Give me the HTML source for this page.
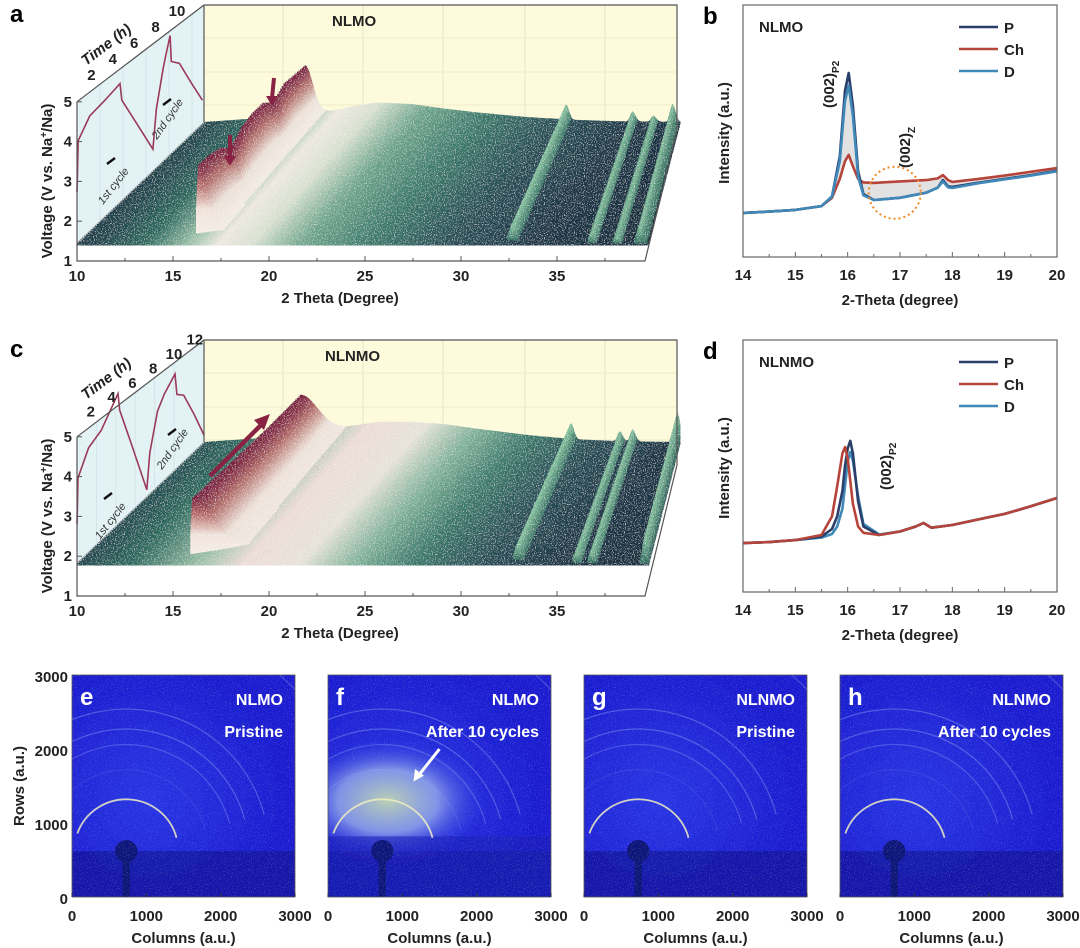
<!DOCTYPE html>
<html><head><meta charset="utf-8"><style>
html,body{margin:0;padding:0;background:#fff;}
svg{display:block;font-family:"Liberation Sans",Arial,sans-serif;}
.t{font-weight:bold;font-size:15px;fill:#222;}
</style></head><body>
<svg id="fig" width="1080" height="948" viewBox="0 0 1080 948" xmlns="http://www.w3.org/2000/svg">
<defs>
<linearGradient id="surfA" gradientUnits="userSpaceOnUse" x1="148" y1="134" x2="459" y2="415">
<stop offset="0" stop-color="#1d3644"/><stop offset="0.08" stop-color="#24454e"/><stop offset="0.17" stop-color="#2f6b60"/>
<stop offset="0.24" stop-color="#8fb8a0"/><stop offset="0.3" stop-color="#ece8df"/><stop offset="0.36" stop-color="#d8e0d0"/>
<stop offset="0.45" stop-color="#6fa58c"/><stop offset="0.57" stop-color="#3d7a6c"/><stop offset="0.71" stop-color="#2a5058"/>
<stop offset="0.86" stop-color="#203848"/><stop offset="1" stop-color="#1c3040"/></linearGradient>
<linearGradient id="surfC" gradientUnits="userSpaceOnUse" x1="160" y1="469" x2="471" y2="750">
<stop offset="0" stop-color="#24454e"/><stop offset="0.1" stop-color="#2f6b60"/>
<stop offset="0.22" stop-color="#9cc0a8"/><stop offset="0.3" stop-color="#ecdcd6"/><stop offset="0.4" stop-color="#e6e2d8"/>
<stop offset="0.5" stop-color="#7fb098"/><stop offset="0.6" stop-color="#3d7a6c"/><stop offset="0.72" stop-color="#2a5058"/>
<stop offset="0.86" stop-color="#203848"/><stop offset="1" stop-color="#1c3040"/></linearGradient>
<linearGradient id="ridge" x1="0" y1="0" x2="0" y2="1">
<stop offset="0" stop-color="#7a1a3c"/><stop offset="0.3" stop-color="#b8706c"/><stop offset="0.65" stop-color="#efe2da"/><stop offset="1" stop-color="#f4eee6"/></linearGradient>
<linearGradient id="gridge" x1="0" y1="0" x2="0" y2="1">
<stop offset="0" stop-color="#8ccaa4"/><stop offset="1" stop-color="#2f6a5e"/></linearGradient>
<filter id="spk" filterUnits="userSpaceOnUse" x="0" y="0" width="1080" height="948">
<feTurbulence type="fractalNoise" baseFrequency="0.9" numOctaves="1" seed="4" result="n"/>
<feColorMatrix in="n" type="matrix" values="0 0 0 0 1  0 0 0 0 1  0 0 0 0 1  10 0 0 0 -5.6" result="d"/>
<feComposite in="d" in2="SourceAlpha" operator="in" result="ds"/>
<feComponentTransfer in="ds" result="d2"><feFuncA type="linear" slope="0.4"/></feComponentTransfer>
<feMerge><feMergeNode in="SourceGraphic"/><feMergeNode in="d2"/></feMerge></filter>
<filter id="spk2" filterUnits="userSpaceOnUse" x="0" y="0" width="1080" height="948">
<feTurbulence type="fractalNoise" baseFrequency="0.95" numOctaves="1" seed="9" result="n"/>
<feColorMatrix in="n" type="matrix" values="0 0 0 0 0.5  0 0 0 0 0.55  0 0 0 0 1  10 0 0 0 -6.0" result="d"/>
<feComposite in="d" in2="SourceAlpha" operator="in" result="ds"/>
<feComponentTransfer in="ds" result="d2"><feFuncA type="linear" slope="0.1"/></feComponentTransfer>
<feMerge><feMergeNode in="SourceGraphic"/><feMergeNode in="d2"/></feMerge></filter>
<radialGradient id="cloud" cx="0.5" cy="0.5" r="0.5">
<stop offset="0" stop-color="#c8e0b0" stop-opacity="0.9"/><stop offset="0.5" stop-color="#9eb4ea" stop-opacity="0.75"/><stop offset="1" stop-color="#2a34e0" stop-opacity="0"/></radialGradient>
<radialGradient id="glow" cx="0.35" cy="0.55" r="0.6">
<stop offset="0" stop-color="#2a36e4"/><stop offset="1" stop-color="#1c1ed0"/></radialGradient>
</defs>

<g id="pa">
<text x="10" y="22" font-size="24" font-weight="bold">a</text>
</g>
<g id="pc">
<text x="10" y="357" font-size="24" font-weight="bold">c</text>
</g>
<g id="pb">
<text x="703" y="24" font-size="24" font-weight="bold">b</text>
</g>
<g id="pd">
<text x="703" y="359" font-size="24" font-weight="bold">d</text>
</g>
<g id="pimg"></g>
</svg>
<script>
const NS='http://www.w3.org/2000/svg';
function mk(tag,parent,attrs){const e=document.createElementNS(NS,tag);for(const k in attrs)e.setAttribute(k,attrs[k]);parent.appendChild(e);return e;}
function txt(parent,x,y,s,attrs){const e=mk('text',parent,Object.assign({x:x,y:y},attrs||{}));e.textContent=s;return e;}

// ===== Data: 3D waterfall panels =====
const bgTheta=[10,12,14,16,18,20,21,23,25,27,30,33,36,40];
const aBg=[0,3,6,10,15,24,26,24,18,13,7,3,1,0];
const cBg=[0,3,6,10,16,24,27,27,24,18,10,4,1,0];
const aPeakPos=[16.3,32.65,36.8,38.1,39.3];
const aPeakH=[68,15,10,6,18];
const aRidge=[1,0.97,0.9,0.72,0.85,0.88,0.86,0.7,0.8,0.76,0.72];
const cPeakPos=[16.0,32.95,36.0,36.8,39.6];
const cPeakH=[55,16,10,12,30];
const cRidge=[1,0.97,0.94,0.9,0.87,0.84,0.81,0.78,0.76,0.74,0.72];
const aT=[0,0.1,1.1,2.4,3.74,3.9,5.2,6.6,6.9,7.5,7.8,8.1,8.2,8.9,9.9,10.9];
const aV=[2.73,4.0,4.4,4.5,4.63,4.18,3.3,2.35,3.3,4.2,4.55,4.87,4.2,4.0,3.3,2.63];
const cT=[0,0.1,1.2,2.5,4.23,4.4,5.8,7.2,7.5,8.3,9.0,10.1,10.3,11.0,12.1,13.1];
const cV=[2.8,3.95,4.5,4.7,5.3,4.85,3.6,2.33,3.2,4.1,4.4,4.7,4.15,4.0,3.3,2.6];
const aTimeTicks=[2,4,6,8,10];
const cTimeTicks=[2,4,6,8,10,12];
const thetaTicks=[10,15,20,25,30,35];
const voltTicks=[1,2,3,4,5];

function interp(xs,ys,x){if(x<=xs[0])return ys[0];for(let i=1;i<xs.length;i++){if(x<=xs[i]){const f=(x-xs[i-1])/(xs[i]-xs[i-1]);return ys[i-1]+f*(ys[i]-ys[i-1]);}}return ys[ys.length-1];}

function panel3D(g,o){
  const oy=o.oy;
  const ax=77, axisY=261+oy;
  const X=th=>ax+(th-10)*19.2;
  const dX=xf=>127-(xf-ax)*95/568;
  const dY=xf=>121;
  const VY=v=>axisY-(v-1)*39.8;
  const wall=mk('polygon',g,{points:`${ax},${VY(5)} 204,${5+oy} 204,${o.base-121} ${ax},${o.base}`,fill:'#e3f3f5',stroke:'#999','stroke-width':0.6});
  
  
  const back=mk('rect',g,{x:204,y:5+oy,width:473,height:125,fill:'#fefbdc'});
  
  
  [283,363,443,525,605].forEach(x=>{const l=mk('line',g,{x1:x,y1:5+oy,x2:x,y2:130+oy,stroke:'#e6e6c6','stroke-width':1});});
  [38,72,105].forEach(y=>{const l=mk('line',g,{x1:204,y1:y+oy,x2:677,y2:y+oy,stroke:'#ecebc9','stroke-width':1});});
  for(let t=2;t<=10;t+=2){const xx=ax+t*o.tx, yy=VY(5)-t*o.ty;const l=mk('line',g,{x1:xx,y1:yy,x2:xx,y2:o.base-(xx-ax)*121/127,stroke:'#cfe3e6','stroke-width':0.8});}
  let d='';o.T.forEach((t,i)=>{d+=(i?'L':'M')+(ax+t*o.tx).toFixed(1)+','+(VY(o.V[i])-t*o.ty).toFixed(1);});
  const vc=mk('path',g,{d:d,fill:'none',stroke:'#9a3a5a','stroke-width':1.6});
  
  
  const c1=txt(g,0,0,'1st cycle',{'font-size':11,'font-style':'italic',fill:'#333',transform:`translate(${o.c1[0]},${o.c1[1]}) rotate(-52)`});
  
  const c2=txt(g,0,0,'2nd cycle',{'font-size':11,'font-style':'italic',fill:'#333',transform:`translate(${o.c2[0]},${o.c2[1]}) rotate(-55)`});
  
  [[o.c1[0]+8,o.c1[1]-44],[o.c2[0]+10,o.c2[1]-38]].forEach(p=>{const a=mk('path',g,{d:`M${p[0]-4},${p[1]+3} L${p[0]+4},${p[1]-3}`,stroke:'#111','stroke-width':2.4});});
  const surf=mk('g',g,{filter:'url(#spk)'});
  
  
  const N=70;
  for(let k=N;k>=0;k--){
    const s=k/N;
    const rm=interp([0,.1,.2,.3,.4,.5,.6,.7,.8,.9,1],o.ridge,s);
    const pts=[];
    const peaksPts=o.peakPos.map(()=>[]);
    for(let th=10;th<=39.85;th+=0.1){
      const xf=X(th);
      let h=interp(bgTheta,o.bg,th)*(1-0.25*s);
      let hp=0;const hpj=[];
      o.peakPos.forEach((c,j)=>{const sig=(j===0)?(th<c?0.07:o.rs):(th<c?0.13:0.18);let A=o.peakH[j]*(j===0?rm:1);const v=A*Math.exp(-0.5*((th-c)/sig)**2);hp+=v;hpj.push(v);});
      const x=xf+s*dX(xf), yb=o.base-s*dY(xf);
      pts.push([x,yb-h-hp]);
      o.peakPos.forEach((c,j)=>{if(hpj[j]>1.2){peaksPts[j].push([x,yb-h-hp,yb-h]);}});
    }
    const last=pts[pts.length-1],first=pts[0];
    let P=pts.map(p=>p[0].toFixed(1)+','+p[1].toFixed(1)).join(' ');
    P+=` ${last[0].toFixed(1)},${(o.base-s*121+2.5).toFixed(1)} ${first[0].toFixed(1)},${(o.base-s*121+2.5).toFixed(1)}`;
    const strip=mk('polygon',surf,{points:P,fill:o.grad});
    
    
    peaksPts.forEach((pp,j)=>{
      if(pp.length<2)return;
      let Q=pp.map(p=>p[0].toFixed(1)+','+p[1].toFixed(1)).join(' ');
      for(let i=pp.length-1;i>=0;i--)Q+=' '+pp[i][0].toFixed(1)+','+(pp[i][2]+1).toFixed(1);
      const pk=mk('polygon',surf,{points:Q,fill:j===0?'url(#ridge)':'url(#gridge)'});
      
      
    });
  }
  const box=mk('path',g,{d:`M${ax},${VY(5)} L${ax},${axisY} L645,${axisY} L677,${130+oy} L677,${5+oy} L204,${5+oy} L${ax},${VY(5)} M204,${5+oy} L204,${o.base-121}`,fill:'none',stroke:'#555','stroke-width':1.2});
  
  
  thetaTicks.forEach(t=>{const x=X(t);const tk=mk('line',g,{x1:x,y1:axisY,x2:x,y2:axisY-5,stroke:'#555'});
    const lb=txt(g,x,axisY+20,String(t),{'text-anchor':'middle',class:'t'});});
  for(let t=12.5;t<40;t+=5){const x=X(t);const tk=mk('line',g,{x1:x,y1:axisY,x2:x,y2:axisY-3,stroke:'#555'});}
  voltTicks.forEach(v=>{const y=VY(v);const tk=mk('line',g,{x1:ax,y1:y,x2:ax+5,y2:y,stroke:'#555'});
    const lb=txt(g,ax-5,y+5,String(v),{'text-anchor':'end',class:'t'});});
  o.timeTicks.forEach(t=>{const x=70+t*o.lx,y=o.ly0+oy-t*o.ly;const lb=txt(g,x,y,String(t),{'text-anchor':'middle',class:'t'});});
  const tt=txt(g,0,0,'Time (h)',{class:'t','font-style':'italic',transform:`translate(${o.timeLbl[0]},${o.timeLbl[1]}) rotate(-37)`});
  
  const yt=txt(g,0,0,'Voltage (V vs. Na',{class:'t',transform:`translate(52,${axisY-80}) rotate(-90)`,'text-anchor':'middle'});
  const sup=mk('tspan',yt,{'baseline-shift':'super','font-size':10});sup.textContent='+';
  const rest=mk('tspan',yt,{});rest.textContent='/Na)';
  
  const xt=txt(g,340,axisY+42,'2 Theta (Degree)',{class:'t','text-anchor':'middle'});
  
  const nm=txt(g,o.nameX,26+oy,o.name,{class:'t'});
  
}
panel3D(document.getElementById('pa'),{oy:0,base:243,grad:'url(#surfA)',bg:aBg,peakPos:aPeakPos,peakH:aPeakH,ridge:aRidge,rs:0.5,
  T:aT,V:aV,tx:11.5,ty:8.8,lx:10.7,ly0:96,ly:8,timeTicks:aTimeTicks,timeLbl:[86,66],c1:[103,205],c2:[157,140],name:'NLMO',nameX:332});
panel3D(document.getElementById('pc'),{oy:335,base:563,grad:'url(#surfC)',bg:cBg,peakPos:cPeakPos,peakH:cPeakH,ridge:cRidge,rs:1.1,
  T:cT,V:cV,tx:9.7,ty:7.4,lx:10.4,ly0:96,ly:7.2,timeTicks:cTimeTicks,timeLbl:[86,400],c1:[100,540],c2:[162,470],name:'NLNMO',nameX:325});
(function(){
  const ga=document.getElementById('pa');
  [[230,135,230,166],[274,78,272,106]].forEach(p=>{const a=mk('path',ga,{d:`M${p[0]},${p[1]} L${p[2]},${p[3]-8}`,stroke:'#8a2244','stroke-width':4});
    const h=mk('polygon',ga,{points:`${p[2]-6},${p[3]-10} ${p[2]+6},${p[3]-10} ${p[2]},${p[3]}`,fill:'#8a2244'});});
  const gc=document.getElementById('pc');
  const a=mk('path',gc,{d:'M210,476 L262,424',stroke:'#8a2244','stroke-width':4.5});
  const h=mk('polygon',gc,{points:'254,420 270,414 264,430',fill:'#8a2244'});
})();

// ===== Data: 2D XRD panels =====
const bX=[14,14.5,15,15.5,15.7,15.85,15.95,16.02,16.1,16.2,16.3,16.5,17,17.5,17.72,17.82,17.92,18,18.5,19,19.5,20];
const bP=[17.5,18,18.7,20.2,24,40,66,73,60,34,25,22.6,23.5,25.5,27.5,30.5,28,27.8,29.5,31,32.5,34.3];
const bD=[17.5,18,18.7,20.2,24,38,62,68,56,32,24.5,22.6,23.5,25.5,27.5,30,27.6,27.4,29.3,30.8,32.3,34];
const bCh=[17.5,18,18.7,20.2,23.5,31,38,40.5,36,31,29.6,29.4,30,30.5,31.2,32.5,30.5,29.8,31,32.3,33.8,35.3];
const dX=[14,14.5,15,15.5,15.7,15.8,15.9,15.95,16.0,16.05,16.1,16.2,16.3,16.6,17,17.3,17.45,17.6,18,18.5,19,19.5,20];
const dP=[19.4,19.8,20.6,22,25,30,40,50,57,60,55,36,26,22.6,24,26,27.4,25.5,26.6,28.8,31,34,37.3];
const dCh=[19.4,19.8,20.6,22.6,30,42,55,57.5,53,44,35,26,23.5,22.6,24,26,27.4,25.5,26.6,28.8,31,34,37.3];
const dD=[19.4,19.8,20.6,21.6,23,26,33,42,52,55.5,52,38,27,22.8,24,26,27.4,25.5,26.6,28.8,31,34,37.3];
const xrdTicks=[14,15,16,17,18,19,20];

function panel2D(g,o){
  const L=743,R=1057,T=5+o.oy,B=257+o.oy;
  const X=v=>L+(v-14)/6*(R-L);
  const Y=v=>B-v*2.52;
  if(o.fill){let Q=o.x.map((x,i)=>X(x).toFixed(1)+','+Y(o.P[i]).toFixed(1)).join(' ');for(let i=o.x.length-1;i>=0;i--)Q+=' '+X(o.x[i]).toFixed(1)+','+Y(o.Ch[i]).toFixed(1);
    const f=mk('polygon',g,{points:Q,fill:'#cfcfcf','fill-opacity':0.6});}
  const series=[[o.P,'#2b3f6b','series-p'],[o.Ch,'#b5443a','series-ch'],[o.D,'#3f88b8','series-d']];
  o.order.forEach(i=>{const s=series[i];const d=o.x.map((x,j)=>(j?'L':'M')+X(x).toFixed(1)+','+Y(s[0][j]).toFixed(1)).join('');
    const p=mk('path',g,{d:d,fill:'none',stroke:s[1],'stroke-width':2.6,'stroke-linejoin':'round'});
    });
  const box=mk('rect',g,{x:L,y:T,width:R-L,height:B-T,fill:'none',stroke:'#666','stroke-width':1.2});
  
  xrdTicks.forEach(t=>{const x=X(t);const tk=mk('line',g,{x1:x,y1:B,x2:x,y2:B-5,stroke:'#666'});
    const lb=txt(g,x,B+23,String(t),{'text-anchor':'middle',class:'t','font-size':16});
    if(t<20){const m=mk('line',g,{x1:X(t+0.5),y1:B,x2:X(t+0.5),y2:B-3,stroke:'#666'});}});
  const xt=txt(g,900,B+48,'2-Theta (degree)',{class:'t','text-anchor':'middle'});
  const yt=txt(g,0,0,'Intensity (a.u.)',{class:'t','text-anchor':'middle',transform:`translate(729,${T+128}) rotate(-90)`});
  const nm=txt(g,759,T+27,o.name,{class:'t','font-size':14});
  ['P','Ch','D'].forEach((n,i)=>{const y=T+22+i*22;const l=mk('line',g,{x1:959,y1:y,x2:998,y2:y,stroke:series[i][1],'stroke-width':2.6});
    const tl=txt(g,1004,y+6,n,{class:'t','font-size':16});});
  o.ann.forEach(a=>{const t=txt(g,0,0,'(002)',{class:'t','font-size':15,transform:`translate(${a[0]},${a[1]}) rotate(-90)`});const sb=mk('tspan',t,{'font-size':10,dy:5});sb.textContent=a[2];});
  if(o.circle){const c=mk('circle',g,{cx:X(16.9),cy:Y(25.5),r:26,fill:'none',stroke:'#f08a24','stroke-width':2,'stroke-dasharray':'2,3'});}
}
panel2D(document.getElementById('pb'),{oy:0,x:bX,P:bP,Ch:bCh,D:bD,order:[1,0,2],fill:true,name:'NLMO',ann:[[834,108,'P2'],[910,168,'Z']],circle:true});
panel2D(document.getElementById('pd'),{oy:335,x:dX,P:dP,Ch:dCh,D:dD,order:[2,0,1],fill:false,name:'NLNMO',ann:[[891,490,'P2']],circle:false});

// ===== Diffraction images =====
const imgLeft=[72,328,584,840];
const imgLetters=['e','f','g','h'];
const imgName=['NLMO','NLMO','NLNMO','NLNMO'];
const imgState=['Pristine','After 10 cycles','Pristine','After 10 cycles'];
const ringRadii=[700,1100,1440,1650,1920,3150];
const ringAlpha=[0.85,0.1,0.25,0.3,0.3,0.25];
const pixTicks=[0,1000,2000,3000];
(function(){
  const g=document.getElementById('pimg');
  const W=223,T=675,B=897;
  imgLeft.forEach((L,i)=>{
    const sc=W/3000, sy=(B-T)/3000;
    const px=c=>L+c*sc, py=r=>B-r*sy;
    const cg=mk('g',g,{});
    
    
    const cp=mk('clipPath',g,{id:'cp'+i});mk('rect',cp,{x:L,y:T,width:W,height:B-T});
    const inner=mk('g',cg,{'clip-path':`url(#cp${i})`,filter:'url(#spk2)'});
    const bgr=mk('rect',inner,{x:L,y:T,width:W,height:B-T,fill:'url(#glow)'});
    const low=mk('rect',inner,{x:L,y:py(620),width:W,height:B-py(620),fill:'#141498','fill-opacity':0.7});
    if(i===1){const cl=mk('ellipse',inner,{cx:px(800),cy:py(1300),rx:1350*sc,ry:850*sy,fill:'url(#cloud)'});
      const cv=mk('rect',inner,{x:L,y:py(820),width:W,height:B-py(820),fill:'#1a20b8','fill-opacity':0.6});}
    ringRadii.forEach((r,j)=>{
      const cx=px(730),cy=py(620),rx=r*sc,ry=r*sy;
      const a0=200*Math.PI/180,a1=345*Math.PI/180;
      const d=`M${cx+rx*Math.cos(a0)},${cy+ry*Math.sin(a0)} A${rx},${ry} 0 0 1 ${cx+rx*Math.cos(a1)},${cy+ry*Math.sin(a1)}`;
      const ring=mk('path',inner,{d:d,fill:'none',stroke:j===0?'#f0eec0':'#c8d4ff','stroke-opacity':ringAlpha[j],'stroke-width':j===0?1.8:1.2});
      
    });
    const bs=mk('circle',inner,{cx:px(730),cy:py(620),r:150*sc,fill:'#10137a'});
    const st=mk('rect',inner,{x:px(680),y:py(620),width:100*sc,height:B-py(620),fill:'#10137a'});
    const fr=mk('rect',cg,{x:L,y:T,width:W,height:B-T,fill:'none',stroke:'#555','stroke-width':0.8});
    const lt=txt(cg,L+8,T+30,imgLetters[i],{fill:'#fff','font-weight':'bold','font-size':24});
    const n1=txt(cg,L+W-12,T+30,imgName[i],{fill:'#fff','font-weight':'bold','font-size':16,'text-anchor':'end'});
    const n2=txt(cg,L+W-12,T+62,imgState[i],{fill:'#fff','font-weight':'bold','font-size':16,'text-anchor':'end'});
    if(i===1){const ar=mk('path',cg,{d:`M${px(1500)},${py(2000)} L${px(1200)},${py(1620)}`,stroke:'#fff','stroke-width':3});
      const ah=mk('polygon',cg,{points:`${px(1150)},${py(1560)} ${px(1170)},${py(1730)} ${px(1290)},${py(1640)}`,fill:'#fff'});}
    pixTicks.forEach(t=>{const lb=txt(g,px(t),B+24,String(t),{'text-anchor':'middle',class:'t','font-size':17});
      const tk=mk('line',g,{x1:px(t),y1:B,x2:px(t),y2:B-4,stroke:'#333'});});
    const ct=txt(g,L+W/2,B+46,'Columns (a.u.)',{'text-anchor':'middle',class:'t','font-size':17});
    if(i===0){pixTicks.forEach(t=>{const lb=txt(g,L-4,py(t)+7,String(t),{'text-anchor':'end',class:'t','font-size':17});});
      const rt=txt(g,0,0,'Rows (a.u.)',{class:'t','font-size':17,'text-anchor':'middle',transform:`translate(24,${(T+B)/2}) rotate(-90)`});}
  });
})();
</script>
</body></html>
